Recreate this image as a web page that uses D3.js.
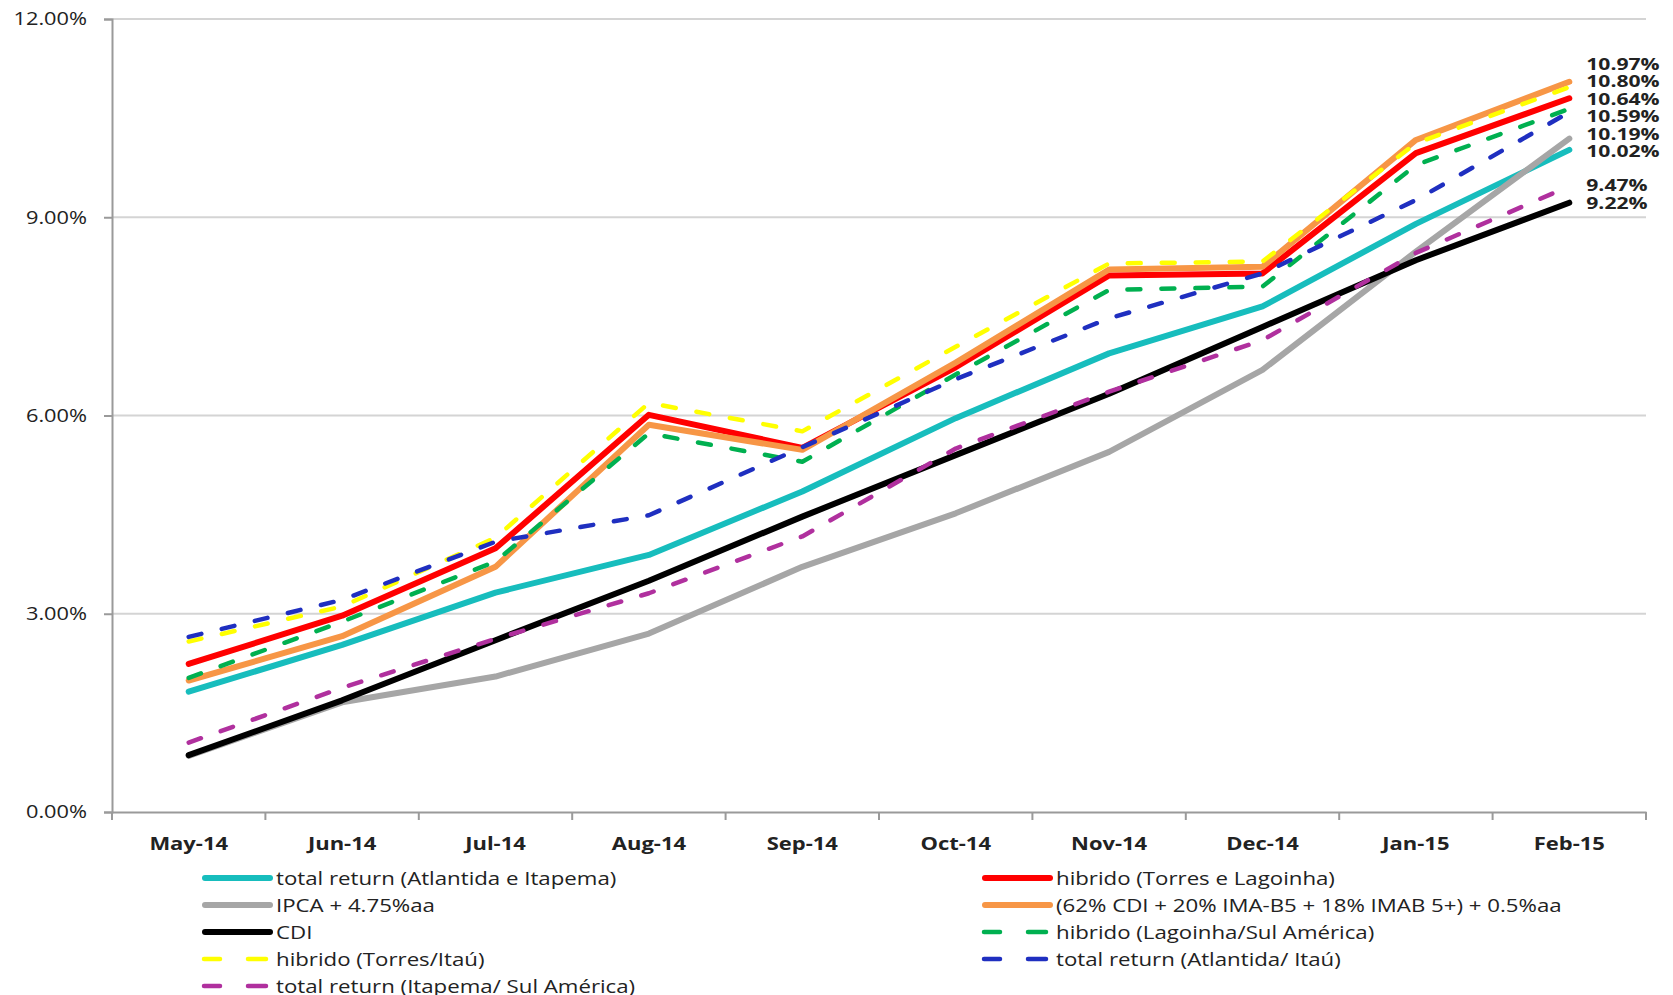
<!DOCTYPE html>
<html>
<head>
<meta charset="utf-8">
<script src="https://cdn.jsdelivr.net/npm/d3@7"></script>
<style>
    body { margin: 0; background: #fff; }
    text { font-family: 'Open Sans', sans-serif; fill: #222; }
</style>
</head>
<body>
<div id="chart"></div>
<script>
const width = 1673;
const height = 995;

// data (cumulative return, %)
const months = ['May-14', 'Jun-14', 'Jul-14', 'Aug-14', 'Sep-14', 'Oct-14', 'Nov-14', 'Dec-14', 'Jan-15', 'Feb-15'];
const yTicks = [0, 3, 6, 9, 12];

const totalReturnAtlItp = [1.82, 2.53, 3.32, 3.89, 4.85, 5.96, 6.94, 7.65, 8.90, 10.02];
const hibridoTorresLag = [2.24, 2.97, 3.99, 6.01, 5.51, 6.73, 8.12, 8.15, 9.97, 10.80];
const ipca = [0.85, 1.66, 2.05, 2.70, 3.71, 4.52, 5.45, 6.69, 8.48, 10.19];
const benchmark = [1.99, 2.66, 3.71, 5.86, 5.48, 6.80, 8.21, 8.25, 10.17, 11.05];
const cdi = [0.86, 1.69, 2.60, 3.50, 4.47, 5.40, 6.33, 7.34, 8.35, 9.22];
const hibridoLagSul = [2.03, 2.88, 3.79, 5.73, 5.30, 6.62, 7.90, 7.95, 9.79, 10.64];
const hibridoTorresItau = [2.58, 3.11, 4.15, 6.19, 5.76, 7.04, 8.30, 8.33, 10.12, 10.97];
const totalReturnAtlItau = [2.65, 3.21, 4.09, 4.49, 5.52, 6.55, 7.47, 8.15, 9.26, 10.59];
const totalReturnItpSul = [1.05, 1.88, 2.62, 3.31, 4.17, 5.50, 6.36, 7.14, 8.46, 9.47];

// series in legend order (left column, right column)
let series = [
    { name: 'total return (Atlantida e Itapema)', values: totalReturnAtlItp, color: '#17bdbd', dash: false, label: true, col: 0 },
    { name: 'hibrido (Torres e Lagoinha)', values: hibridoTorresLag, color: '#ff0000', dash: false, label: true, col: 1 },
    { name: 'IPCA + 4.75%aa', values: ipca, color: '#a6a6a6', dash: false, label: true, col: 0 },
    { name: '(62% CDI + 20% IMA-B5 + 18% IMAB 5+) + 0.5%aa', values: benchmark, color: '#f79646', dash: false, label: false, col: 1 },
    { name: 'CDI', values: cdi, color: '#000000', dash: false, label: true, col: 0 },
    { name: 'hibrido (Lagoinha/Sul América)', values: hibridoLagSul, color: '#00b050', dash: true, label: true, col: 1 },
    { name: 'hibrido (Torres/Itaú)', values: hibridoTorresItau, color: '#ffff00', dash: true, label: true, col: 0 },
    { name: 'total return (Atlantida/ Itaú)', values: totalReturnAtlItau, color: '#1f2fc0', dash: true, label: true, col: 1 },
    { name: 'total return (Itapema/ Sul América)', values: totalReturnItpSul, color: '#b0309e', dash: true, label: true, col: 0 }
];

let margin = { top: 19, right: 27, bottom: 183, left: 112 };

let x = d3.scaleBand()
    .domain(months)
    .range([margin.left, width - margin.right]);

let y = d3.scaleLinear()
    .domain([0, 12])
    .range([height - margin.bottom, margin.top]);

const cx = m => x(m) + x.bandwidth() / 2;

// make text a bit wider, like the stretched original
function stretch(sel, k) {
    sel.each(function() {
        let w = this.getComputedTextLength();
        d3.select(this)
            .attr('textLength', w * k)
            .attr('lengthAdjust', 'spacingAndGlyphs');
    });
}

const svg = d3.select('#chart')
    .append('svg')
    .attr('width', width)
    .attr('height', height);

// grid
svg.append('g')
    .selectAll('line')
    .data(yTicks.filter(d => d > 0))
    .enter()
    .append('line')
    .attr('x1', margin.left)
    .attr('x2', width - margin.right)
    .attr('y1', d => y(d))
    .attr('y2', d => y(d))
    .attr('stroke', '#d4d4d4')
    .attr('stroke-width', 2);

// y axis
let yAxis = svg.append('g')
    .attr('transform', `translate(${margin.left},0)`)
    .call(d3.axisLeft(y).tickValues(yTicks).tickSize(8).tickPadding(17).tickFormat(d => d.toFixed(2) + '%'));
yAxis.select('.domain').attr('stroke', '#9a9a9a').attr('stroke-width', 2);
yAxis.selectAll('.tick line').attr('stroke', '#9a9a9a').attr('stroke-width', 2);
yAxis.selectAll('.tick text')
    .attr('font-family', null)
    .style('font-size', '18px')
    .attr('fill', '#222')
    .call(stretch, 1.21);

// x axis
let xAxis = svg.append('g')
    .attr('transform', `translate(0,${y(0)})`)
    .call(d3.axisBottom(x).tickSize(0).tickPadding(25));
xAxis.select('.domain').attr('stroke', '#9a9a9a').attr('stroke-width', 2);
xAxis.selectAll('.tick text')
    .attr('font-family', null)
    .style('font-size', '18px')
    .style('font-weight', 'bold')
    .attr('fill', '#222')
    .call(stretch, 1.22);
svg.append('g')
    .selectAll('line')
    .data(months.concat(['end']))
    .enter()
    .append('line')
    .attr('x1', (d, i) => i < months.length ? x(d) : x.range()[1])
    .attr('x2', (d, i) => i < months.length ? x(d) : x.range()[1])
    .attr('y1', y(0))
    .attr('y2', y(0) + 8)
    .attr('stroke', '#9a9a9a')
    .attr('stroke-width', 2);

// lines
let line = d3.line()
    .x((d, i) => cx(months[i]))
    .y(d => y(d));

svg.append('g')
    .selectAll('path')
    .data(series)
    .enter()
    .append('path')
    .attr('d', d => line(d.values))
    .attr('fill', 'none')
    .attr('stroke', d => d.color)
    .attr('stroke-width', d => d.dash ? 4.5 : 6)
    .attr('stroke-dasharray', d => d.dash ? '13 21' : null)
    .attr('stroke-linecap', 'round')
    .attr('stroke-linejoin', 'round');

// end labels, spread apart so they do not overlap (upper one gives way more)
let labels = series.filter(s => s.label)
    .map(s => ({ v: s.values[s.values.length - 1], pos: y(s.values[s.values.length - 1]) }))
    .sort((a, b) => a.pos - b.pos);
const gap = 17.5;
for (let it = 0; it < 300; it++) {
    for (let i = 1; i < labels.length; i++) {
        let d = labels[i].pos - labels[i - 1].pos;
        if (d < gap) {
            labels[i].pos += (gap - d) * 0.25;
            labels[i - 1].pos -= (gap - d) * 0.75;
        }
    }
}

svg.append('g')
    .selectAll('text')
    .data(labels)
    .enter()
    .append('text')
    .attr('x', cx(months[months.length - 1]) + 17)
    .attr('y', d => d.pos)
    .attr('dy', '0.36em')
    .style('font-size', '16px')
    .style('font-weight', 'bold')
    .text(d => d.v.toFixed(2) + '%')
    .call(stretch, 1.32);

// legend
const legendRow = 27;
const legendTop = 878;
let colX = [202, 982];
let legend = svg.append('g');
let counts = [0, 0];
series.forEach(s => {
    let row = counts[s.col]++;
    let gy = legendTop + row * legendRow;
    let g = legend.append('g').attr('transform', `translate(${colX[s.col]},${gy})`);
    if (s.dash) {
        [[0, 20], [44, 66]].forEach(seg => {
            g.append('line')
                .attr('x1', seg[0] + 2).attr('x2', seg[1] - 2)
                .attr('y1', 0).attr('y2', 0)
                .attr('stroke', s.color)
                .attr('stroke-width', 4.5)
                .attr('stroke-linecap', 'round');
        });
    } else {
        g.append('line')
            .attr('x1', 3).attr('x2', 68)
            .attr('y1', 0).attr('y2', 0)
            .attr('stroke', s.color)
            .attr('stroke-width', 6)
            .attr('stroke-linecap', 'round');
    }
    g.append('text')
        .attr('x', 74)
        .attr('y', 0)
        .attr('dy', '0.35em')
        .style('font-size', '19px')
        .text(s.name)
        .call(stretch, 1.17);
});
</script>
</body>
</html>
